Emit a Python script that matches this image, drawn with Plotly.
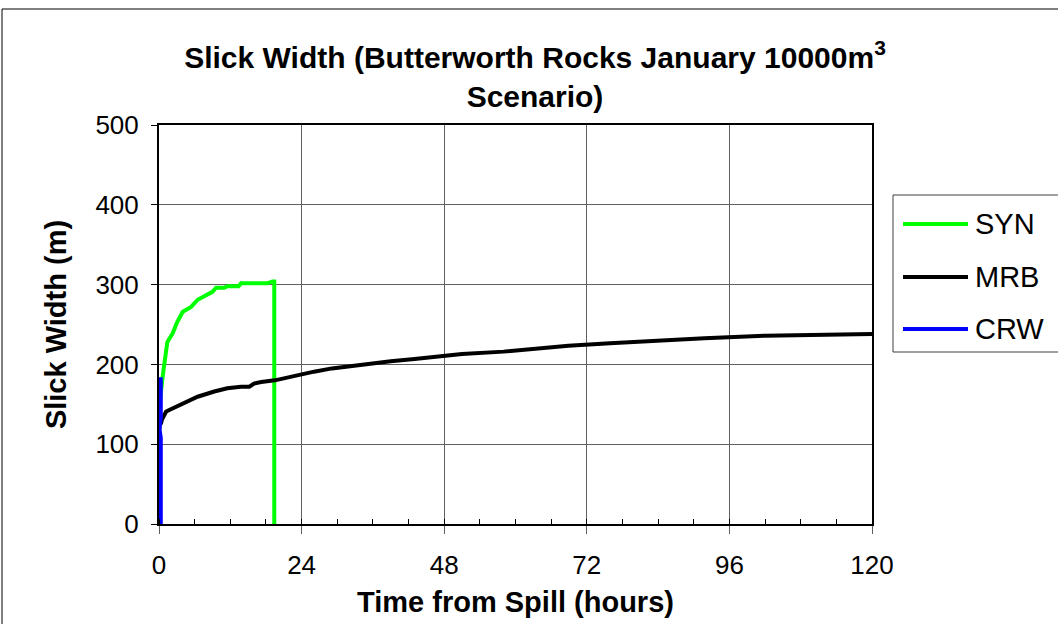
import plotly.graph_objects as go

# ---- data ----
syn_t = [0.05, 0.1, 0.6, 1.4, 2.3, 3.0, 4.0, 5.4, 6.5, 9.0, 9.6, 11.0, 11.5, 13.4, 13.8, 18.2, 19.1, 19.4, 19.4]
syn_w = [112, 150, 184, 228, 239, 252, 266, 272, 281, 291, 296, 296, 298, 298, 301.6, 301.6, 304, 304, 0]

mrb_t = [0.3, 0.5, 1.2, 4.2, 6.5, 9.3, 11.5, 13.8, 15.2, 16.0, 17.2, 19.5, 21.1, 23.1, 26.1, 29.1, 32.1,
         35.4, 39.0, 43.0, 47.3, 51.0, 58.0, 63.3, 68.9, 75.9, 82.8, 91.8, 102.0, 114.0, 120.0]
mrb_w = [125, 131, 141, 151, 159.5, 166, 170, 172, 172, 176, 178, 180, 182.6, 186.7, 190.9, 195, 198,
         201, 204, 206.8, 210.5, 213, 216, 220, 223.4, 226.4, 229.3, 232.7, 236, 238, 238]

crw_t = [0.3, 0.3, 0.1, 0.3, 0.3]
crw_w = [0, 108, 118, 135, 184]

series_names = ["SYN", "MRB", "CRW"]
series_colors = ["#00FF00", "#000000", "#0000FF"]
series_t = [syn_t, mrb_t, crw_t]
series_w = [syn_w, mrb_w, crw_w]

x_ticks = [0, 24, 48, 72, 96, 120]
y_ticks = [0, 100, 200, 300, 400, 500]

FONT = "Liberation Sans, Arial, sans-serif"

fig = go.Figure()
for name, color, t, w in zip(series_names, series_colors, series_t, series_w):
    fig.add_trace(go.Scatter(x=t, y=w, mode="lines", name=name, showlegend=False,
                             line=dict(color=color, width=4)))

L, R, T, B = 159, 872, 125, 524
W, H = 1058, 624

def px_x(p):
    return (p - L) / (R - L)

def px_y(p):
    return (B - p) / (B - T)

fig.update_layout(
    width=W, height=H,
    margin=dict(l=L, r=W - R, t=T, b=H - B, autoexpand=False),
    paper_bgcolor="white", plot_bgcolor="white",
    font=dict(family=FONT, color="black", size=26),
    title=dict(text="<b>Slick Width (Butterworth Rocks January 10000m<sup>3</sup><br>Scenario)</b>",
               x=535 / W, xanchor="center", xref="container",
               y=1 - 68 / H, yanchor="top", yref="container",
               font=dict(family=FONT, size=30, color="black")),
    showlegend=False,
    xaxis=dict(range=[0, 120], tickvals=x_ticks, ticktext=[str(v) for v in x_ticks],
               showgrid=True, gridcolor="#606060", gridwidth=1,
               showline=True, linecolor="black", linewidth=2, mirror=True,
               ticks="outside", ticklen=8, tickcolor="#606060", tickwidth=1,
               minor=dict(dtick=6, ticks="inside", ticklen=5, tickcolor="black", showgrid=False),
               tickfont=dict(size=26), zeroline=False, ticklabelstandoff=9,
               title=dict(text="<b>Time from Spill (hours)</b>", font=dict(size=29), standoff=12)),
    yaxis=dict(range=[0, 500], tickvals=y_ticks, ticktext=[str(v) for v in y_ticks],
               showgrid=True, gridcolor="#606060", gridwidth=1,
               showline=True, linecolor="black", linewidth=2, mirror=True,
               ticks="outside", ticklen=6, tickcolor="black", tickwidth=1,
               tickfont=dict(size=26), zeroline=False, ticklabelstandoff=7,
               title=dict(text="<b>Slick Width (m)</b>", font=dict(size=29), standoff=20)),
)

# outer chart frame
fig.add_shape(type="rect", xref="paper", yref="paper",
              x0=px_x(2), x1=px_x(1075), y0=px_y(9), y1=px_y(660),
              line=dict(color="black", width=1), fillcolor="rgba(0,0,0,0)", layer="below")

# legend box (built from the series list)
fig.add_shape(type="rect", xref="paper", yref="paper",
              x0=px_x(893), x1=px_x(1075), y0=px_y(195), y1=px_y(352),
              line=dict(color="#404040", width=1), fillcolor="white")
legend_rows = [224, 277, 329]
for name, color, ry in zip(series_names, series_colors, legend_rows):
    fig.add_shape(type="line", xref="paper", yref="paper",
                  x0=px_x(903), x1=px_x(968), y0=px_y(ry), y1=px_y(ry),
                  line=dict(color=color, width=4))
    fig.add_annotation(text=name, xref="paper", yref="paper",
                       x=px_x(973), y=px_y(ry), xanchor="left", yanchor="middle",
                       showarrow=False, font=dict(family=FONT, size=29, color="black"))

fig.write_html("out.html", config={"displayModeBar": False},
               post_script="document.body.style.margin='0px';")
